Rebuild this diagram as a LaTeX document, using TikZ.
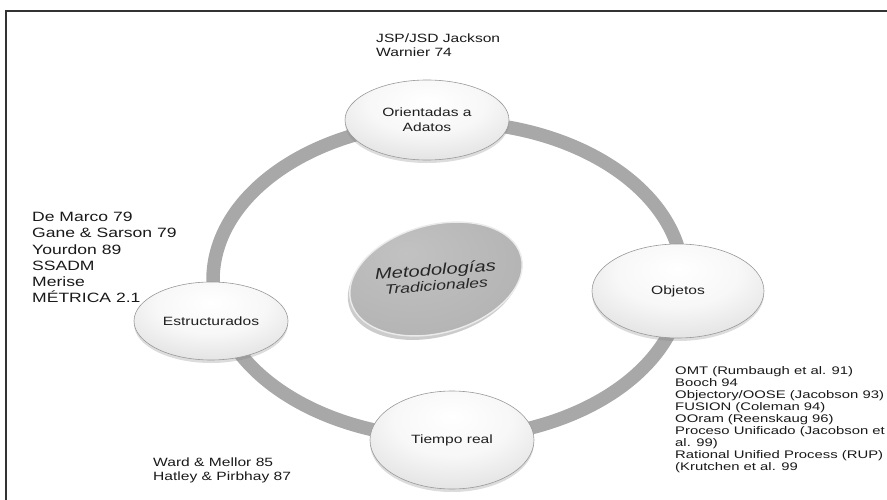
\documentclass[tikz,border=0pt]{standalone}
\usepackage{fontspec}
\setmainfont{Liberation Sans}
\newfontfamily\widesans[FakeStretch=1.3]{Liberation Sans}
\newfontfamily\listsans[FakeStretch=1.35]{Liberation Sans}
\usetikzlibrary{shapes.geometric,shadows}

% pale spheres for the four families
\pgfdeclareradialshading{discshade}{\pgfpoint{0bp}{12bp}}{%
  color(0bp)=(white); color(18bp)=(white!97!black); color(36bp)=(white!88!black);
  color(46bp)=(white!80!black); color(50bp)=(white!72!black); color(100bp)=(white!72!black)}
% darker central disc
\pgfdeclareradialshading{hubshade}{\pgfpoint{-8bp}{10bp}}{%
  color(0bp)=(white!76!black); color(28bp)=(white!71!black); color(42bp)=(white!64!black);
  color(48bp)=(white!52!black); color(50bp)=(white!45!black); color(100bp)=(white!45!black)}

\tikzset{
  frame/.style={line width=1.1pt, black!80},
  ring/.style={line width=13.5pt, white!66!black},
  disc/.style={ellipse, inner sep=0pt, shading=discshade, draw=white!60!black,
    line width=0.6pt, align=center, text=black!88,
    font=\widesans\fontsize{12}{15}\selectfont,
    drop shadow={shadow xshift=0pt, shadow yshift=-3pt, opacity=0.28}},
  hubdisc/.style={ellipse, inner sep=0pt, shading=hubshade, draw=white!92!black,
    line width=1.4pt, text=black!85, font=\widesans\itshape,
    drop shadow={shadow xshift=-2pt, shadow yshift=-4pt, opacity=0.4}},
  note/.style={anchor=north west, align=left, inner sep=0pt, text=black!90},
}

\begin{document}
\begin{tikzpicture}[x=1pt, y=1pt]
  \path[use as bounding box] (0,0) rectangle (887,-500);
  \clip (0,0) rectangle (887,-500);

  % open frame (top and left edges)
  \draw[frame] (6,-500) -- (6,-11) -- (887,-11);

  % ring joining the four families
  \draw[ring] (448,-280) ellipse [x radius=235, y radius=158];

  % central tilted disc, its title turned back to a slight slope
  \node[hubdisc, minimum width=172pt, minimum height=108pt, rotate=15] (hub) at (436,-279)
    {\rotatebox{-11}{\begin{tabular}{@{}c@{}}
       {\fontsize{15.5}{18}\selectfont Metodologías}\\[2pt]
       {\fontsize{13.5}{16}\selectfont Tradicionales}
     \end{tabular}}};

  % the four families
  \node[disc, minimum width=164pt, minimum height=80pt] (ori) at (427,-120) {Orientadas a\\Adatos};
  \node[disc, minimum width=154pt, minimum height=78pt] (est) at (211,-321) {Estructurados};
  \node[disc, minimum width=172pt, minimum height=94pt] (obj) at (678,-291) {Objetos};
  \node[disc, minimum width=164pt, minimum height=98pt] (tie) at (452,-440) {Tiempo real};

  % methods of each family
  \node[note, font=\widesans\fontsize{12}{14}\selectfont] (oriList) at (376,-33.5)
    {JSP/JSD Jackson\\Warnier 74};
  \node[note, font=\widesans\fontsize{13.5}{16.2}\selectfont] (estList) at (32,-212)
    {De Marco 79\\Gane \& Sarson 79\\Yourdon 89\\SSADM\\Merise\\MÉTRICA 2.1};
  \node[note, font=\widesans\fontsize{12}{14}\selectfont] (tieList) at (153,-457.5)
    {Ward \& Mellor 85\\Hatley \& Pirbhay 87};
  \node[note, font=\listsans\fontsize{11}{12.1}\selectfont] (objList) at (675,-366)
    {OMT (Rumbaugh et al. 91)\\Booch 94\\Objectory/OOSE (Jacobson 93)\\FUSION (Coleman 94)\\OOram (Reenskaug 96)\\Proceso Unificado (Jacobson et\\al. 99)\\Rational Unified Process (RUP)\\(Krutchen et al. 99};
\end{tikzpicture}
\end{document}
